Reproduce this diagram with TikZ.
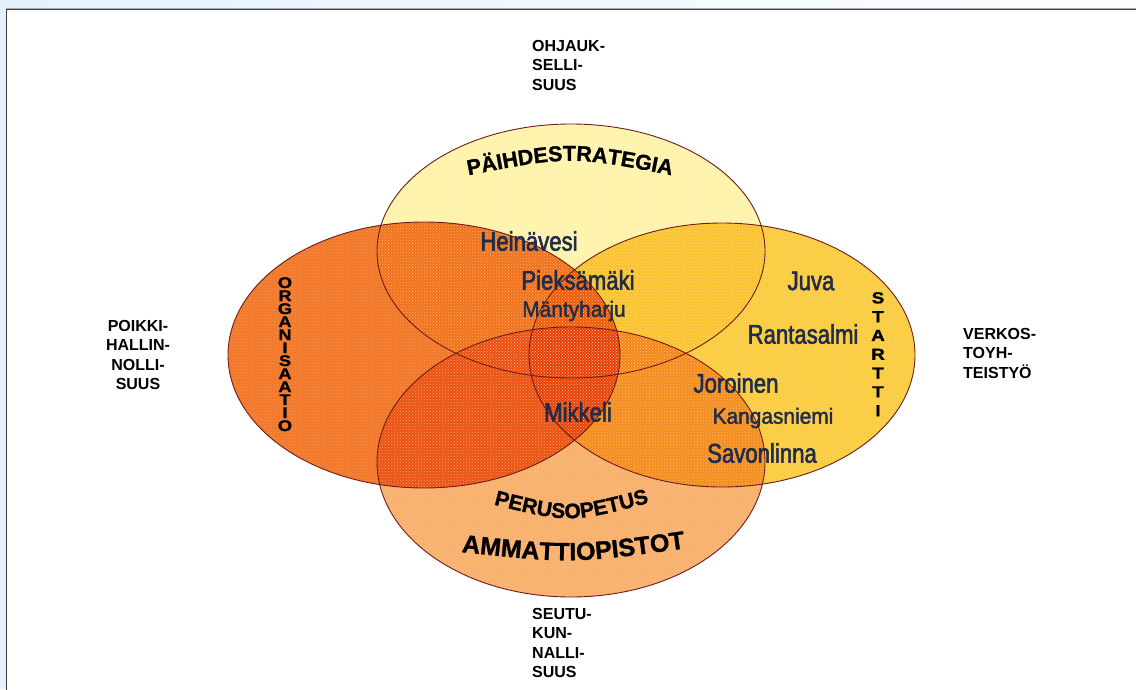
\documentclass[tikz,border=0pt]{standalone}
\usepackage{fontspec}
\setmainfont{Liberation Sans}
\newfontfamily\narrowA[FakeStretch=0.82,FakeBold=2]{Liberation Sans}
\newfontfamily\narrowB[FakeStretch=0.95,FakeBold=2]{Liberation Sans}
\newfontfamily\heavyfont[FakeBold=1.2]{Liberation Sans Bold}
\newfontfamily\widefont[FakeBold=1.2,FakeStretch=1.18]{Liberation Sans Bold}
\usetikzlibrary{decorations.text,patterns}
\definecolor{bgblue}{HTML}{E3F2FC}
\definecolor{framegray}{HTML}{3C3C3C}
\definecolor{shadowgray}{HTML}{A6ACB2}
\definecolor{cTop}{HTML}{FFF3AC}
\definecolor{cLeft}{HTML}{F27828}
\definecolor{cRight}{HTML}{FBCC40}
\definecolor{cBottom}{HTML}{F9B06C}
\definecolor{rimcol}{HTML}{6E1C1C}
\definecolor{citycol}{HTML}{1F2D4A}
\tikzset{
  rim/.style={draw=rimcol, line width=0.9pt},
  texture/.style={pattern=crosshatch dots, pattern color=white, fill opacity=0.25},
  side/.style={font=\bfseries\fontsize{16}{19.5}\selectfont, inner sep=0pt, text=black},
  city/.style={font=\narrowA\fontsize{27}{27}\selectfont, text=citycol, inner sep=0pt},
  citysmall/.style={font=\narrowB\fontsize{22}{22}\selectfont, text=citycol, inner sep=0pt},
  vert/.style={font=\widefont\fontsize{15.5}{13}\selectfont, align=center, inner sep=0pt, anchor=north},
}
\newcommand{\arcfontA}{\heavyfont\fontsize{21.5}{21.5}\selectfont}
\newcommand{\arcfontB}{\heavyfont\fontsize{21}{21}\selectfont}
\newcommand{\arcfontC}{\heavyfont\fontsize{25}{25}\selectfont}
\begin{document}
\begin{tikzpicture}[x=1pt,y=-1pt]
\useasboundingbox (0,0) rectangle (1136,689);
% background and frame
\fill[bgblue] (0,0) rectangle (1136,689);
\shade[left color=bgblue, right color=white!96!bgblue] (0,0) rectangle (1136,9);
\fill[white] (6.5,9.5) rectangle (1140,695);
\draw[shadowgray, line width=1pt] (6,8) -- (1140,8);
\draw[framegray, line width=1.6pt] (6.5,695) -- (6.5,9.5) -- (1140,9.5);

% ellipses (multiply blend)
\begin{scope}[blend group=multiply]
  \fill[cTop]    (571,251) ellipse [x radius=194, y radius=127];
  \fill[cLeft]   (424,355) ellipse [x radius=196, y radius=133];
  \fill[cRight]  (722,355) ellipse [x radius=193, y radius=132];
  \fill[cBottom] (571,462) ellipse [x radius=194, y radius=135];
\end{scope}
\path[texture] (424,355) ellipse [x radius=196, y radius=133];
\path[texture] (722,355) ellipse [x radius=193, y radius=132];
\path[texture] (571,462) ellipse [x radius=194, y radius=135];
\path[texture] (571,251) ellipse [x radius=194, y radius=127];
\path[rim] (571,251) ellipse [x radius=194, y radius=127];
\path[rim] (424,355) ellipse [x radius=196, y radius=133];
\path[rim] (722,355) ellipse [x radius=193, y radius=132];
\path[rim] (571,462) ellipse [x radius=194, y radius=135];

% arched titles
\path[decorate, decoration={text along path, text align=center,
  text={|\arcfontA|PÄIHDESTRATEGIA}}]
  (455,178) .. controls (570,155) .. (685,178);
\path[decorate, decoration={text along path, text align=center,
  text={|\arcfontB|PERUSOPETUS}}]
  (484,502) .. controls (570,524) .. (659,500);
\path[decorate, decoration={text along path, text align=center,
  text={|\arcfontC|AMMATTIOPISTOT}}]
  (452,551) .. controls (572,564) .. (695,547);

% vertical words
\node[vert] (org) at (285,277) {O\\R\\G\\A\\N\\I\\S\\A\\A\\T\\I\\O};
\node[vert, font=\widefont\fontsize{16}{18.8}\selectfont] (startti) at (878,292) {S\\T\\A\\R\\T\\T\\I};

% city names
\node[city] (hei) at (529,241) {Heinävesi};
\node[city] (pie) at (578,280) {Pieksämäki};
\node[citysmall] (man) at (574,311) {Mäntyharju};
\node[city] (juv) at (811,281) {Juva};
\node[city] (ran) at (803,334) {Rantasalmi};
\node[city] (jor) at (736,383) {Joroinen};
\node[citysmall] (kan) at (773,418) {Kangasniemi};
\node[city] (sav) at (762,453) {Savonlinna};
\node[city] (mik) at (578,412) {Mikkeli};

% side labels
\node[side, align=left, anchor=north west] (ohj) at (532,40) {OHJAUK-\\SELLI-\\SUUS};
\node[side, align=center, anchor=north] (poi) at (138,320) {POIKKI-\\HALLIN-\\NOLLI-\\SUUS};
\node[side, align=left, anchor=north west] (ver) at (963,328) {VERKOS-\\TOYH-\\TEISTYÖ};
\node[side, align=left, anchor=north west] (seu) at (532,608) {SEUTU-\\KUN-\\NALLI-\\SUUS};
\end{tikzpicture}
\end{document}
